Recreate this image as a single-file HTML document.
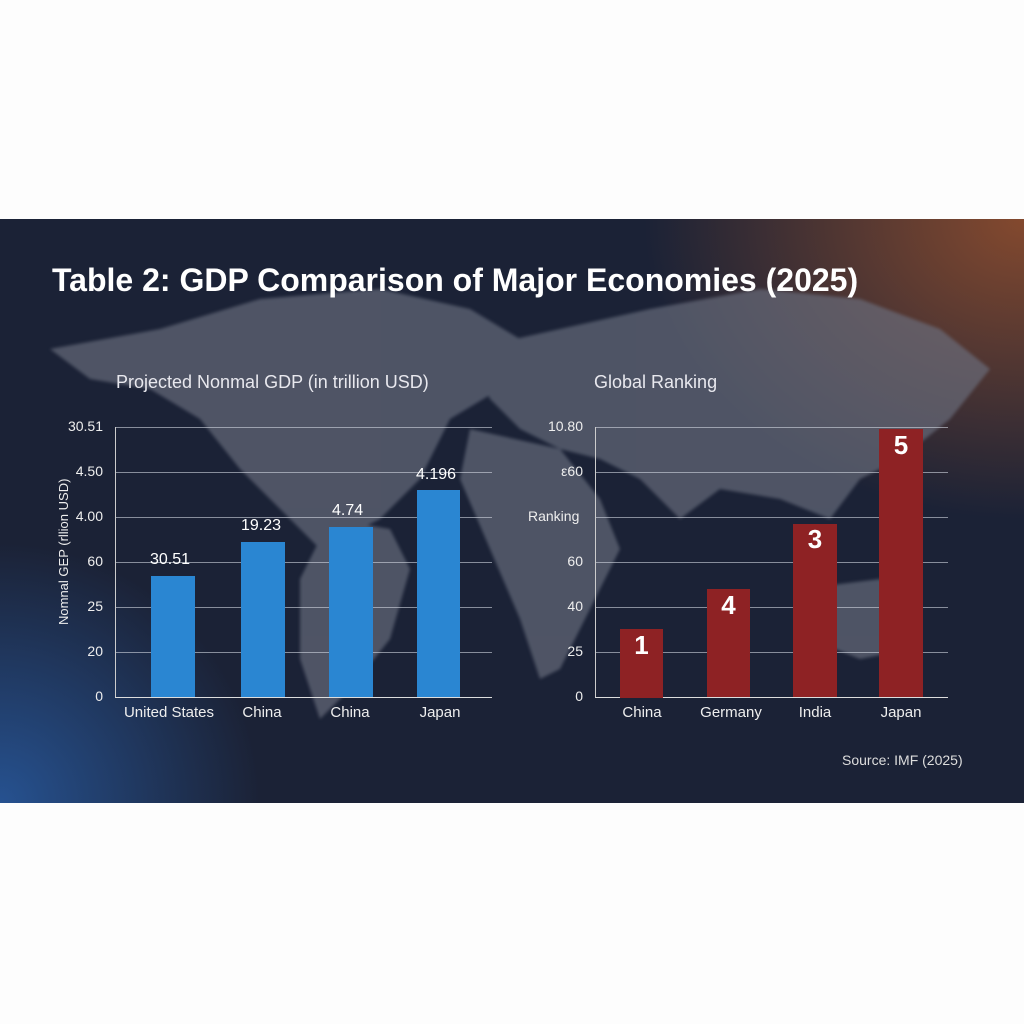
<!DOCTYPE html>
<html><head><style>
body{margin:0;width:1024px;height:1024px;background:#fdfdfd;position:relative;overflow:hidden;font-family:"Liberation Sans",sans-serif}
#p{position:absolute;left:0;top:219px;width:1024px;height:584px;overflow:hidden;
background:radial-gradient(ellipse 380px 300px at 1024px 0px,rgba(150,80,45,.85),rgba(150,80,45,0) 100%),
radial-gradient(ellipse 260px 260px at 0px 584px,rgba(40,90,160,.85),rgba(40,90,160,0) 100%),#1b2236}
.t{position:absolute;color:#fff;white-space:nowrap}
.g{position:absolute;height:1px;background:rgba(210,215,225,.6)}
.b{position:absolute;background:#2a86d2}
.r{position:absolute;background:#8e2224;color:#fff;font-weight:bold;font-size:26px;text-align:center}
.yl{position:absolute;color:#eee;font-size:14px;text-align:right;width:50px}
.xl{position:absolute;color:#eee;font-size:15px;text-align:center;width:100px}
</style></head><body>
<div id="p">
<svg width="1024" height="584" style="position:absolute;left:0;top:0;filter:blur(1.5px)">
<g fill="#6b7080" opacity="0.65">
<path d="M50 130 L160 110 L260 80 L380 70 L470 90 L520 120 L500 170 L450 200 L420 260 L380 300 L320 330 L290 300 L240 250 L200 200 L150 170 L90 160 Z"/>
<path d="M330 300 L390 310 L410 350 L390 420 L350 470 L320 500 L300 440 L300 360 Z"/>
<path d="M470 130 L560 110 L650 90 L760 70 L860 80 L940 110 L990 150 L950 200 L900 240 L860 260 L830 300 L780 280 L720 270 L680 300 L640 260 L600 240 L560 230 L520 210 L490 180 Z"/>
<path d="M470 210 L560 230 L600 280 L620 330 L590 390 L560 450 L540 460 L520 400 L490 330 L460 260 Z"/>
<path d="M800 370 L880 360 L920 390 L910 430 L860 440 L810 420 Z"/>
</g></svg>
<div class="t" style="left:52px;top:43px;font-size:32px;font-weight:bold">Table 2: GDP Comparison of Major Economies (2025)</div>
<div class="t" style="left:116px;top:153px;font-size:18px;color:#e8e8ee">Projected Nonmal GDP (in trillion USD)</div>
<div class="t" style="left:594px;top:153px;font-size:18px;color:#e8e8ee">Global Ranking</div>
<div class="t" style="left:56px;top:406px;font-size:13px;color:#eee;transform:rotate(-90deg);transform-origin:left top;width:160px">Nomnal GEP (rllion USD)</div>
</div>
<!-- left chart -->
<div class="g" style="left:115px;top:427px;width:377px"></div>
<div class="g" style="left:115px;top:472px;width:377px"></div>
<div class="g" style="left:115px;top:517px;width:377px"></div>
<div class="g" style="left:115px;top:562px;width:377px"></div>
<div class="g" style="left:115px;top:607px;width:377px"></div>
<div class="g" style="left:115px;top:652px;width:377px"></div>
<div class="g" style="left:115px;top:697px;width:377px;background:#ddd"></div>
<div style="position:absolute;left:115px;top:427px;width:1px;height:270px;background:#ccc"></div>
<div class="yl" style="left:53px;top:418px">30.51</div>
<div class="yl" style="left:53px;top:463px">4.50</div>
<div class="yl" style="left:53px;top:508px">4.00</div>
<div class="yl" style="left:53px;top:553px">60</div>
<div class="yl" style="left:53px;top:598px">25</div>
<div class="yl" style="left:53px;top:643px">20</div>
<div class="yl" style="left:53px;top:688px">0</div>
<div class="b" style="left:151px;top:576px;width:44px;height:121px"></div>
<div class="b" style="left:241px;top:542px;width:44px;height:155px"></div>
<div class="b" style="left:329px;top:527px;width:44px;height:170px"></div>
<div class="b" style="left:417px;top:490px;width:43px;height:207px"></div>
<div class="t" style="left:150px;top:551px;font-size:16px">30.51</div>
<div class="t" style="left:241px;top:517px;font-size:16px">19.23</div>
<div class="t" style="left:332px;top:502px;font-size:16px">4.74</div>
<div class="t" style="left:416px;top:466px;font-size:16px">4.196</div>
<div class="xl" style="left:119px;top:704px">United States</div>
<div class="xl" style="left:212px;top:704px">China</div>
<div class="xl" style="left:300px;top:704px">China</div>
<div class="xl" style="left:390px;top:704px">Japan</div>
<!-- right chart -->
<div class="g" style="left:595px;top:427px;width:353px"></div>
<div class="g" style="left:595px;top:472px;width:353px"></div>
<div class="g" style="left:595px;top:517px;width:353px"></div>
<div class="g" style="left:595px;top:562px;width:353px"></div>
<div class="g" style="left:595px;top:607px;width:353px"></div>
<div class="g" style="left:595px;top:652px;width:353px"></div>
<div class="g" style="left:595px;top:697px;width:353px;background:#ddd"></div>
<div style="position:absolute;left:595px;top:427px;width:1px;height:270px;background:#ccc"></div>
<div class="yl" style="left:533px;top:418px">10.80</div>
<div class="yl" style="left:533px;top:463px">ε60</div>
<div class="t" style="left:528px;top:508px;font-size:14px;color:#eee">Ranking</div>
<div class="yl" style="left:533px;top:553px">60</div>
<div class="yl" style="left:533px;top:598px">40</div>
<div class="yl" style="left:533px;top:643px">25</div>
<div class="yl" style="left:533px;top:688px">0</div>
<div class="r" style="left:620px;top:629px;width:43px;height:68px;line-height:30px;padding-top:1px">1</div>
<div class="r" style="left:707px;top:589px;width:43px;height:108px;line-height:32px">4</div>
<div class="r" style="left:793px;top:524px;width:44px;height:173px;line-height:30px">3</div>
<div class="r" style="left:879px;top:429px;width:44px;height:268px;line-height:32px">5</div>
<div class="xl" style="left:592px;top:704px">China</div>
<div class="xl" style="left:681px;top:704px">Germany</div>
<div class="xl" style="left:765px;top:704px">India</div>
<div class="xl" style="left:851px;top:704px">Japan</div>
<div class="t" style="left:842px;top:752px;font-size:14px;color:#ddd">Source: IMF (2025)</div>
</body></html>
